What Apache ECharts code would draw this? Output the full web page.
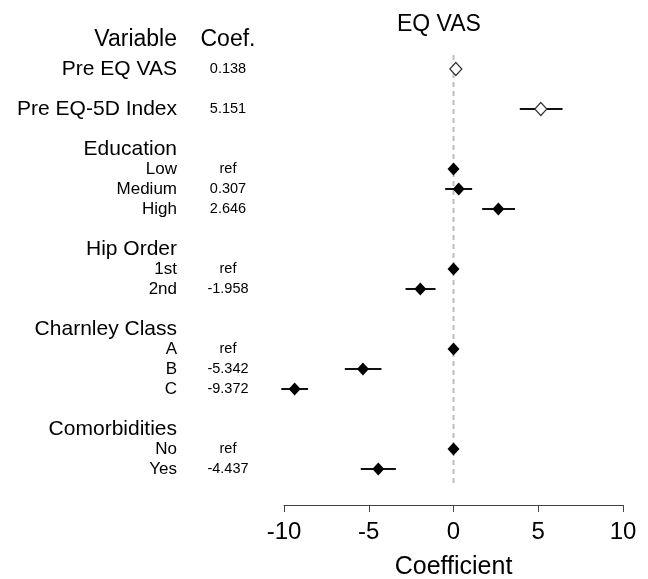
<!DOCTYPE html>
<html>
<head>
<meta charset="utf-8">
<script src="https://cdn.jsdelivr.net/npm/echarts@6/dist/echarts.min.js"></script>
<style>
  html, body { margin: 0; background: #fff; }
  #chart { width: 648px; height: 579px; }
</style>
</head>
<body>
<div id="chart"></div>
<script>
// rows of the forest plot, top to bottom
const rowNames = ['Pre EQ VAS', 'Pre EQ-5D Index', 'Education', 'Low', 'Medium', 'High',
    'Hip Order', '1st', '2nd', 'Charnley Class', 'A', 'B', 'C', 'Comorbidities', 'No', 'Yes'];
const rowKind = ['cont', 'cont', 'head', 'level', 'level', 'level',
    'head', 'level', 'level', 'head', 'level', 'level', 'level', 'head', 'level', 'level'];
const rowPos = [0, 2, 4, 5, 6, 7, 9, 10, 11, 13, 14, 15, 16, 18, 19, 20];
const coefText = ['0.138', '5.151', '', 'ref', '0.307', '2.646', '', 'ref', '-1.958',
    '', 'ref', '-5.342', '-9.372', '', 'ref', '-4.437'];
const estimate = [0.138, 5.151, null, 0, 0.307, 2.646, null, 0, -1.958,
    null, 0, -5.342, -9.372, null, 0, -4.437];
const lower = [0.13, 3.91, null, 0, -0.49, 1.69, null, 0, -2.83,
    null, 0, -6.41, -10.16, null, 0, -5.47];
const upper = [0.146, 6.43, null, 0, 1.10, 3.63, null, 0, -1.06,
    null, 0, -4.25, -8.58, null, 0, -3.40];
const xTicks = [-10, -5, 0, 5, 10];
const headerRow = -1.45;

const font = '"Liberation Sans", Arial, Helvetica, sans-serif';
const chart = echarts.init(document.getElementById('chart'));

const nameData = [{ value: [-10, headerRow], name: 'Variable', label: { fontSize: 23 } }];
const coefData = [{ value: [-10, headerRow], name: 'Coef.', label: { fontSize: 23 } }];
const barData = [];
const filledData = [];
const hollowData = [];

rowNames.forEach((name, i) => {
    const big = rowKind[i] !== 'level';
    nameData.push({ value: [-10, rowPos[i]], name: name, label: { fontSize: big ? 21 : 17 } });
    if (coefText[i]) {
        coefData.push({ value: [-10, rowPos[i]], name: coefText[i], label: { fontSize: 14.5 } });
    }
    if (estimate[i] === null) return;
    if (upper[i] > lower[i]) barData.push([lower[i], upper[i], rowPos[i]]);
    if (rowKind[i] === 'cont') hollowData.push([estimate[i], rowPos[i]]);
    else filledData.push([estimate[i], rowPos[i]]);
});

const option = {
    animation: false,
    textStyle: { fontFamily: font },
    title: {
        text: 'EQ VAS',
        left: 392,
        top: 8,
        textStyle: { fontFamily: font, fontSize: 23, fontWeight: 'normal', color: '#000' }
    },
    grid: { left: 284, right: 25, top: 29, bottom: 74, outerBoundsMode: 'none' },
    xAxis: {
        type: 'value',
        min: -10,
        max: 10,
        interval: 5,
        splitLine: { show: false },
        axisLine: { show: true, onZero: false, lineStyle: { color: '#444', width: 1 } },
        axisTick: { show: true, length: 7, lineStyle: { color: '#444' } },
        axisLabel: {
            fontSize: 24, color: '#000', margin: 15,
            customValues: xTicks
        },
        name: 'Coefficient',
        nameLocation: 'middle',
        nameGap: 50,
        nameTextStyle: { fontSize: 25, color: '#000' }
    },
    yAxis: {
        type: 'value',
        inverse: true,
        min: -2,
        max: 21.8,
        show: false
    },
    series: [
        {
            // reference line at zero
            type: 'line',
            data: [[0, -0.7], [0, 20.9]],
            symbol: 'none',
            silent: true,
            lineStyle: { color: '#bdbdbd', width: 2, type: [5, 4] },
            z: 1
        },
        {
            type: 'custom',
            silent: true,
            encode: { x: [0, 1], y: 2 },
            data: barData,
            renderItem: (params, api) => {
                const p1 = api.coord([api.value(0), api.value(2)]);
                const p2 = api.coord([api.value(1), api.value(2)]);
                return {
                    type: 'line',
                    shape: { x1: p1[0], y1: p1[1], x2: p2[0], y2: p2[1] },
                    style: { stroke: '#111', lineWidth: 2 }
                };
            },
            z: 2
        },
        {
            type: 'scatter',
            symbol: 'diamond',
            symbolSize: [12, 13],
            silent: true,
            data: filledData,
            itemStyle: { color: '#000', opacity: 1 },
            z: 3
        },
        {
            type: 'scatter',
            symbol: 'diamond',
            symbolSize: [12, 13],
            silent: true,
            data: hollowData,
            itemStyle: { color: '#fff', borderColor: '#333', borderWidth: 1.2, opacity: 1 },
            z: 3
        },
        {
            type: 'scatter',
            symbolSize: 0,
            silent: true,
            clip: false,
            data: nameData,
            itemStyle: { opacity: 1 },
            label: {
                show: true,
                formatter: '{b}',
                position: 'left',
                distance: 107,
                color: '#000',
                opacity: 1,
                fontFamily: font
            }
        },
        {
            type: 'scatter',
            symbolSize: 0,
            silent: true,
            clip: false,
            data: coefData,
            itemStyle: { opacity: 1 },
            label: {
                show: true,
                formatter: '{b}',
                position: 'left',
                distance: 56,
                align: 'center',
                color: '#000',
                opacity: 1,
                fontFamily: font
            }
        }
    ]
};

chart.setOption(option);
</script>
</body>
</html>
